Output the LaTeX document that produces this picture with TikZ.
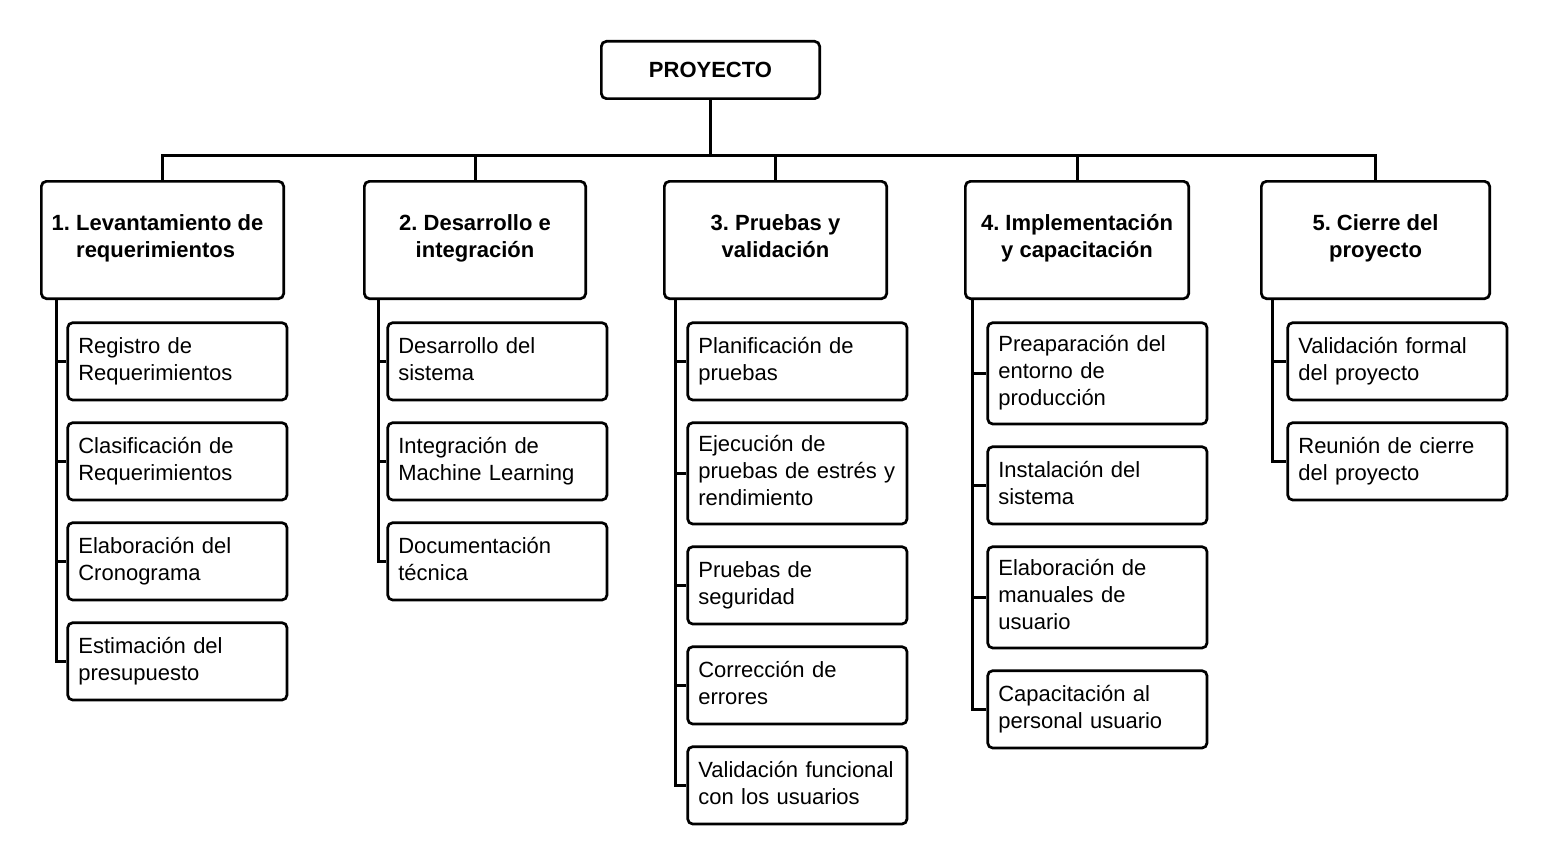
\documentclass[tikz,border=0pt]{standalone}
\usepackage{fontspec}
\setmainfont{Liberation Sans}
\begin{document}
\begin{tikzpicture}[x=1pt,y=-1pt,
  box/.style={draw, line width=2.7pt, rounded corners=5pt, inner sep=0pt, fill=white,
    font=\fontsize{22}{27}\selectfont\frenchspacing},
  lvl/.style={box, minimum height=117.3pt, align=center,
    font=\fontsize{22}{27}\selectfont\bfseries\frenchspacing,
    execute at begin node=\strut,
    execute at end node={\vrule width 0pt height 0pt depth 8pt}},
  sub/.style={box, anchor=north west, text width=198pt, inner xsep=10.65pt, align=left,
    minimum height=77.3pt, execute at begin node=\strut, execute at end node=\strut},
  tall/.style={minimum height=101.3pt},
  conn/.style={line width=3pt, line join=miter}]
\useasboundingbox (0,0) rectangle (1547,864);
\fill[white] (0,0) rectangle (1547,864);

\node[box, font=\fontsize{22}{27}\selectfont\bfseries, minimum width=218.3pt, minimum height=57.3pt] (root) at (710.5,70) {PROYECTO};

\node[lvl, minimum width=242.3pt, align=left] (L1) at (162.5,240) {1. Levantamiento de\hspace*{10pt}\\\hphantom{1.\ }requerimientos};
\node[lvl, minimum width=221.3pt] (L2) at (475,240) {2. Desarrollo e\\integración};
\node[lvl, minimum width=222.3pt] (L3) at (775.5,240) {3. Pruebas y\\validación};
\node[lvl, minimum width=223.3pt] (L4) at (1077,240) {4. Implementación\\y capacitación};
\node[lvl, minimum width=228.3pt] (L5) at (1375.5,240) {5. Cierre del\\proyecto};

% column 1
\node[sub] (c11) at (66.35,321.35) {Registro de\\Requerimientos};
\node[sub] (c12) at (66.35,421.35) {Clasificación de\\Requerimientos};
\node[sub] (c13) at (66.35,521.35) {Elaboración del\\Cronograma};
\node[sub] (c14) at (66.35,621.35) {Estimación del\\presupuesto};
% column 2
\node[sub] (c21) at (386.35,321.35) {Desarrollo del\\sistema};
\node[sub] (c22) at (386.35,421.35) {Integración de\\Machine Learning};
\node[sub] (c23) at (386.35,521.35) {Documentación\\técnica};
% column 3
\node[sub] (c31) at (686.35,321.35) {Planificación de\\pruebas};
\node[sub, tall] (c32) at (686.35,421.35) {Ejecución de\\\mbox{pruebas de estrés y}\\rendimiento};
\node[sub] (c33) at (686.35,545.35) {Pruebas de\\seguridad};
\node[sub] (c34) at (686.35,645.35) {Corrección de\\errores};
\node[sub] (c35) at (686.35,745.35) {Validación funcional\\con los usuarios};
% column 4
\node[sub, tall] (c41) at (986.35,321.35) {Preaparación del\\entorno de\\producción};
\node[sub] (c42) at (986.35,445.35) {Instalación del\\sistema};
\node[sub, tall] (c43) at (986.35,545.35) {Elaboración de\\manuales de\\usuario};
\node[sub] (c44) at (986.35,669.35) {Capacitación al\\personal usuario};
% column 5
\node[sub] (c51) at (1286.35,321.35) {Validación formal\\del proyecto};
\node[sub] (c52) at (1286.35,421.35) {Reunión de cierre\\del proyecto};

% bus
\coordinate (bus) at (0,155);
\draw[conn] (root.south) -- (root.south |- bus);
\draw[conn] (L1.north) -- (L1.north |- bus) -- (L5.north |- bus) -- (L5.north);
\draw[conn] (L2.north) -- (L2.north |- bus);
\draw[conn] (L3.north) -- (L3.north |- bus);
\draw[conn] (L4.north) -- (L4.north |- bus);

% column connectors
\coordinate (v1) at (56,300);
\coordinate (v2) at (378,300);
\coordinate (v3) at (675,300);
\coordinate (v4) at (972,300);
\coordinate (v5) at (1272,300);

\draw[conn] (v1) |- (c14.west);
\foreach \n in {c11,c12,c13} \draw[conn] (v1 |- \n.west) -- (\n.west);
\draw[conn] (v2) |- (c23.west);
\foreach \n in {c21,c22} \draw[conn] (v2 |- \n.west) -- (\n.west);
\draw[conn] (v3) |- (c35.west);
\foreach \n in {c31,c32,c33,c34} \draw[conn] (v3 |- \n.west) -- (\n.west);
\draw[conn] (v4) |- (c44.west);
\foreach \n in {c41,c42,c43} \draw[conn] (v4 |- \n.west) -- (\n.west);
\draw[conn] (v5) |- (c52.west);
\foreach \n in {c51} \draw[conn] (v5 |- \n.west) -- (\n.west);
\end{tikzpicture}
\end{document}
